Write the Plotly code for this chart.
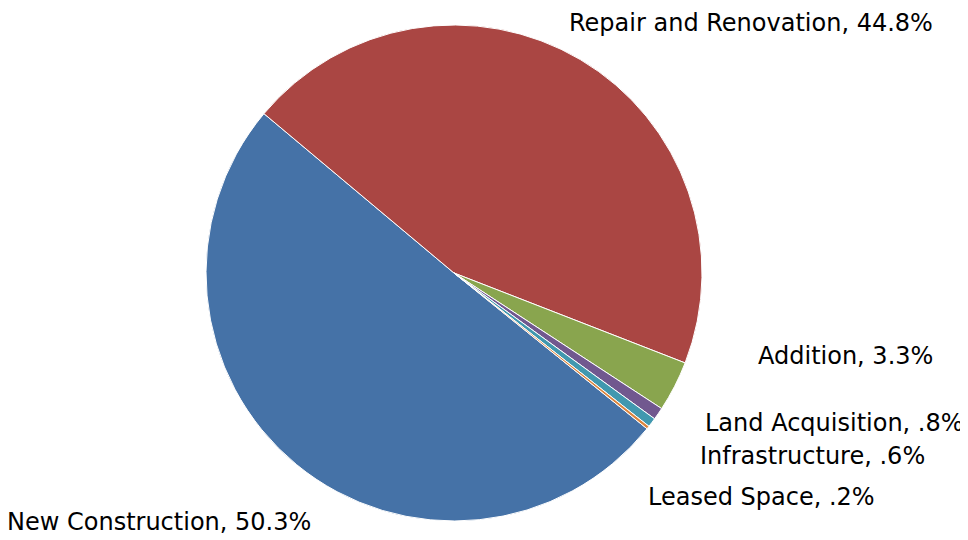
import plotly.graph_objects as go

categories = ["New Construction", "Repair and Renovation", "Addition",
              "Land Acquisition", "Infrastructure", "Leased Space"]
values = [50.3, 44.8, 3.3, 0.8, 0.6, 0.2]
colors = ["#4572A7", "#AA4643", "#89A54E", "#71588F", "#4198AF", "#DB843D"]

# page body has an 8px margin, so the figure is drawn offset by (8, 8)
OFF = 8
# label centre positions in screen pixels (layout only)
label_pos = [(159, 522), (751, 19), (845, 356), (834, 423), (812, 456), (761, 497)]

W, H = 968, 540
cx, cy, r = 454 - OFF, 273 - OFF, 248

def fmt(v):
    s = f"{v:.1f}"
    if s.startswith("0"):
        s = s[1:]
    return s + "%"

fig = go.Figure(go.Pie(
    labels=categories,
    values=values,
    marker=dict(colors=colors, line=dict(color="white", width=1)),
    sort=False,
    direction="clockwise",
    rotation=128.9,
    textinfo="none",
    hoverinfo="label+percent",
    showlegend=False,
    domain=dict(x=[(cx - r) / W, (cx + r) / W],
                y=[(H - cy - r) / H, (H - cy + r) / H]),
))

for cat, v, (px, py) in zip(categories, values, label_pos):
    yc = max(py - OFF, 15)  # keep the text box inside the figure
    fig.add_annotation(
        x=(px - OFF) / W, y=1 - yc / H, xref="paper", yref="paper",
        text=f"{cat}, {fmt(v)}", showarrow=False,
        xanchor="center", yanchor="middle", borderpad=0,
        font=dict(family="DejaVu Sans", size=24, color="#000000"),
    )

fig.update_layout(
    width=W, height=H,
    margin=dict(l=0, r=0, t=0, b=0),
    paper_bgcolor="white", plot_bgcolor="white",
)

fig.write_html("out.html")
